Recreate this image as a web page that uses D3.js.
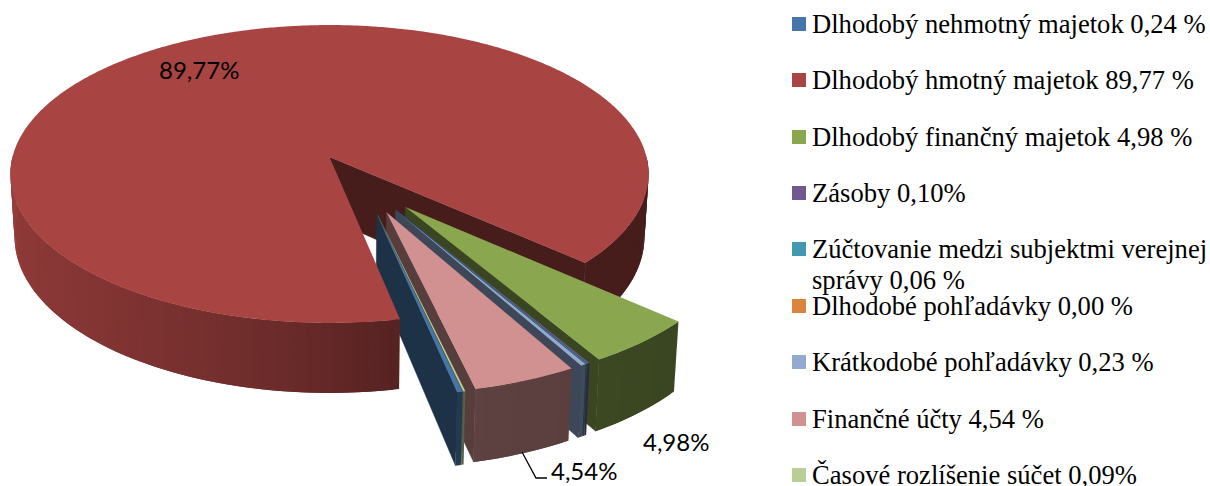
<!DOCTYPE html>
<html>
<head>
<meta charset="utf-8">
<script src="https://cdn.jsdelivr.net/npm/d3@7"></script>
<style>
  html, body { margin: 0; padding: 0; background: #fff; overflow: hidden; }
</style>
</head>
<body>
<div id="chart"></div>
<script>
// data
var categories = ["Dlhodobý nehmotný majetok", "Dlhodobý hmotný majetok", "Dlhodobý finančný majetok",
  "Zásoby", "Zúčtovanie medzi subjektmi verejnej správy", "Dlhodobé pohľadávky",
  "Krátkodobé pohľadávky", "Finančné účty", "Časové rozlíšenie súčet"];
var values = [0.24, 89.77, 4.98, 0.10, 0.06, 0.00, 0.23, 4.54, 0.09];
var colors = ["#4675a9", "#a84442", "#8aa64e", "#71588f", "#4198af", "#db843d", "#93a9cf", "#d09190", "#b9cd96"];
var legendLines = [
  ["Dlhodobý nehmotný majetok 0,24 %"],
  ["Dlhodobý hmotný majetok 89,77 %"],
  ["Dlhodobý finančný majetok 4,98 %"],
  ["Zásoby 0,10%"],
  ["Zúčtovanie medzi subjektmi verejnej", "správy 0,06 %"],
  ["Dlhodobé pohľadávky 0,00 %"],
  ["Krátkodobé pohľadávky 0,23 %"],
  ["Finančné účty 4,54 %"],
  ["Časové rozlíšenie súčet 0,09%"]
];
var legendBaselines = [33, 89, 146, 202, 258, 315, 371, 428, 484];
var dataLabels = ["89,77%", "4,98%", "4,54%"];

var width = 1210, height = 486;
var svg = d3.select("#chart").append("svg")
  .attr("width", width)
  .attr("height", height)
  .style("display", "block");

// camera for the tilted disk
var cx = 329.5, cy = 157, rx = 317, ry = 147, k = 0.114, depth = 62;
var rad = Math.PI / 180;

function project(u, v, z) {
  var s = 1 / (1 - k * v);
  var shrink = z ? 0.987 : 1;
  return [cx + rx * u * s * shrink, cy + ry * v * s + (z ? depth * s : 0)];
}

// angle is clockwise from the far side of the disk
function rim(a, off, z) {
  return project(off[0] + Math.sin(a), off[1] - Math.cos(a), z);
}

var pie = d3.pie().sort(null).value(function(d) { return d; })
  .startAngle(167.74 * rad)
  .endAngle((167.74 + 360) * rad);
var arcs = pie(values);

// small slices are pulled out, the big one stays
var explodeSize = 0.4;
var explodeAngle = d3.scaleLinear().domain([140, 168]).range([144.5, 159]);

function explodeOf(d) {
  if (d.value > 50) return [0, 0];
  var midDeg = ((d.startAngle + d.endAngle) / 2 / rad) % 360;
  var mid = explodeAngle(midDeg) * rad;
  return [explodeSize * Math.sin(mid), -explodeSize * Math.cos(mid)];
}

// wall gets lighter the further it turns to the left
var wallShade = d3.scaleLinear()
  .domain([90, 132, 167, 169, 185, 201, 223, 252, 270])
  .range([0.42, 0.42, 0.45, 0.51, 0.62, 0.7, 0.78, 0.85, 0.9])
  .clamp(true);
var faceShade = 0.42;

function shade(color, f) {
  var c = d3.rgb(color);
  return d3.rgb(c.r * f, c.g * f, c.b * f).formatHex();
}

function degOf(p) {
  return ((p[0] + p[1]) / 2 / rad) % 360;
}

var line = d3.line();

// cut face on the clockwise end of a slice
function drawFace(g, d, color, off) {
  var faceColor = shade(color, faceShade);
  g.append("path")
    .attr("d", line([
      project(off[0], off[1], false),
      rim(d.endAngle, off, false),
      rim(d.endAngle, off, true),
      project(off[0], off[1], true)
    ]) + "Z")
    .attr("fill", faceColor)
    .attr("stroke", faceColor)
    .attr("stroke-width", 0.4);
}

// outer wall, one narrow strip per step, each strip runs under the next
function drawWall(g, d, color, off, keep) {
  var steps = d3.range(d.startAngle, d.endAngle, 1 * rad).concat([d.endAngle]);
  var strips = d3.pairs(steps).filter(function(p) {
    return -Math.cos((p[0] + p[1]) / 2) > 0 && keep(degOf(p));
  });
  g.selectAll(".wall").data(strips).enter().append("path")
    .attr("class", "wall")
    .attr("d", function(p) {
      var next = Math.min(p[1] + 1 * rad, d.endAngle);
      return line([rim(p[0], off, false), rim(next, off, false), rim(next, off, true), rim(p[0], off, true)]) + "Z";
    })
    .attr("fill", function(p) { return shade(color, wallShade(degOf(p))); });
}

function drawTop(g, d, color, off) {
  var topSteps = d3.range(d.startAngle, d.endAngle, 0.5 * rad).concat([d.endAngle]);
  var topPts = [project(off[0], off[1], false)].concat(topSteps.map(function(a) { return rim(a, off, false); }));
  g.append("path")
    .attr("d", line(topPts) + "Z")
    .attr("fill", color);
}

var bigIndex = 1;
var bigOff = explodeOf(arcs[bigIndex]);

// the big slice: its far side goes behind the pulled out slices
var backG = svg.append("g").attr("class", "big-back");
drawFace(backG, arcs[bigIndex], colors[bigIndex], bigOff);
drawWall(backG, arcs[bigIndex], colors[bigIndex], bigOff, function(deg) { return deg < 160; });

// pulled out slices, right to left
[2, 3, 4, 5, 6, 7, 8, 0].forEach(function(i) {
  var d = arcs[i];
  if (d.value === 0) return;
  var off = explodeOf(d);
  var g = svg.append("g").attr("class", "slice");
  drawFace(g, d, colors[i], off);
  drawWall(g, d, colors[i], off, function() { return true; });
  drawTop(g, d, colors[i], off);
});

// the big slice's near side and top sit over them
var frontG = svg.append("g").attr("class", "big-front");
drawWall(frontG, arcs[bigIndex], colors[bigIndex], bigOff, function(deg) { return deg >= 160; });
drawTop(frontG, arcs[bigIndex], colors[bigIndex], bigOff);

// data labels
var labelFont = "Lato, 'Open Sans', sans-serif";
svg.selectAll(".data-label")
  .data(dataLabels)
  .enter().append("text")
    .attr("class", "data-label")
    .attr("x", function(d, i) { return [159, 643, 551][i]; })
    .attr("y", function(d, i) { return [79, 451, 480][i]; })
    .attr("font-family", labelFont)
    .attr("font-size", 24)
    .attr("fill", "#000")
    .text(function(d) { return d; });

// leader for the 4,54% label
svg.append("path")
  .attr("d", line([[522, 452], [536, 478], [547, 478]]))
  .attr("fill", "none")
  .attr("stroke", "#000")
  .attr("stroke-width", 1.3);

// legend
var legend = svg.selectAll(".legend")
  .data(categories)
  .enter().append("g")
    .attr("class", "legend");

legend.append("rect")
  .attr("x", 792)
  .attr("y", function(d, i) { return legendBaselines[i] - 16; })
  .attr("width", 14)
  .attr("height", 14)
  .attr("fill", function(d, i) { return colors[i]; });

legend.append("text")
  .attr("font-family", "'Liberation Serif', serif")
  .attr("font-size", 26.6)
  .attr("fill", "#000")
  .each(function(d, i) {
    var t = d3.select(this);
    legendLines[i].forEach(function(str, j) {
      t.append("tspan")
        .attr("x", 812)
        .attr("y", legendBaselines[i] + j * 31)
        .text(str);
    });
  });
</script>
</body>
</html>
